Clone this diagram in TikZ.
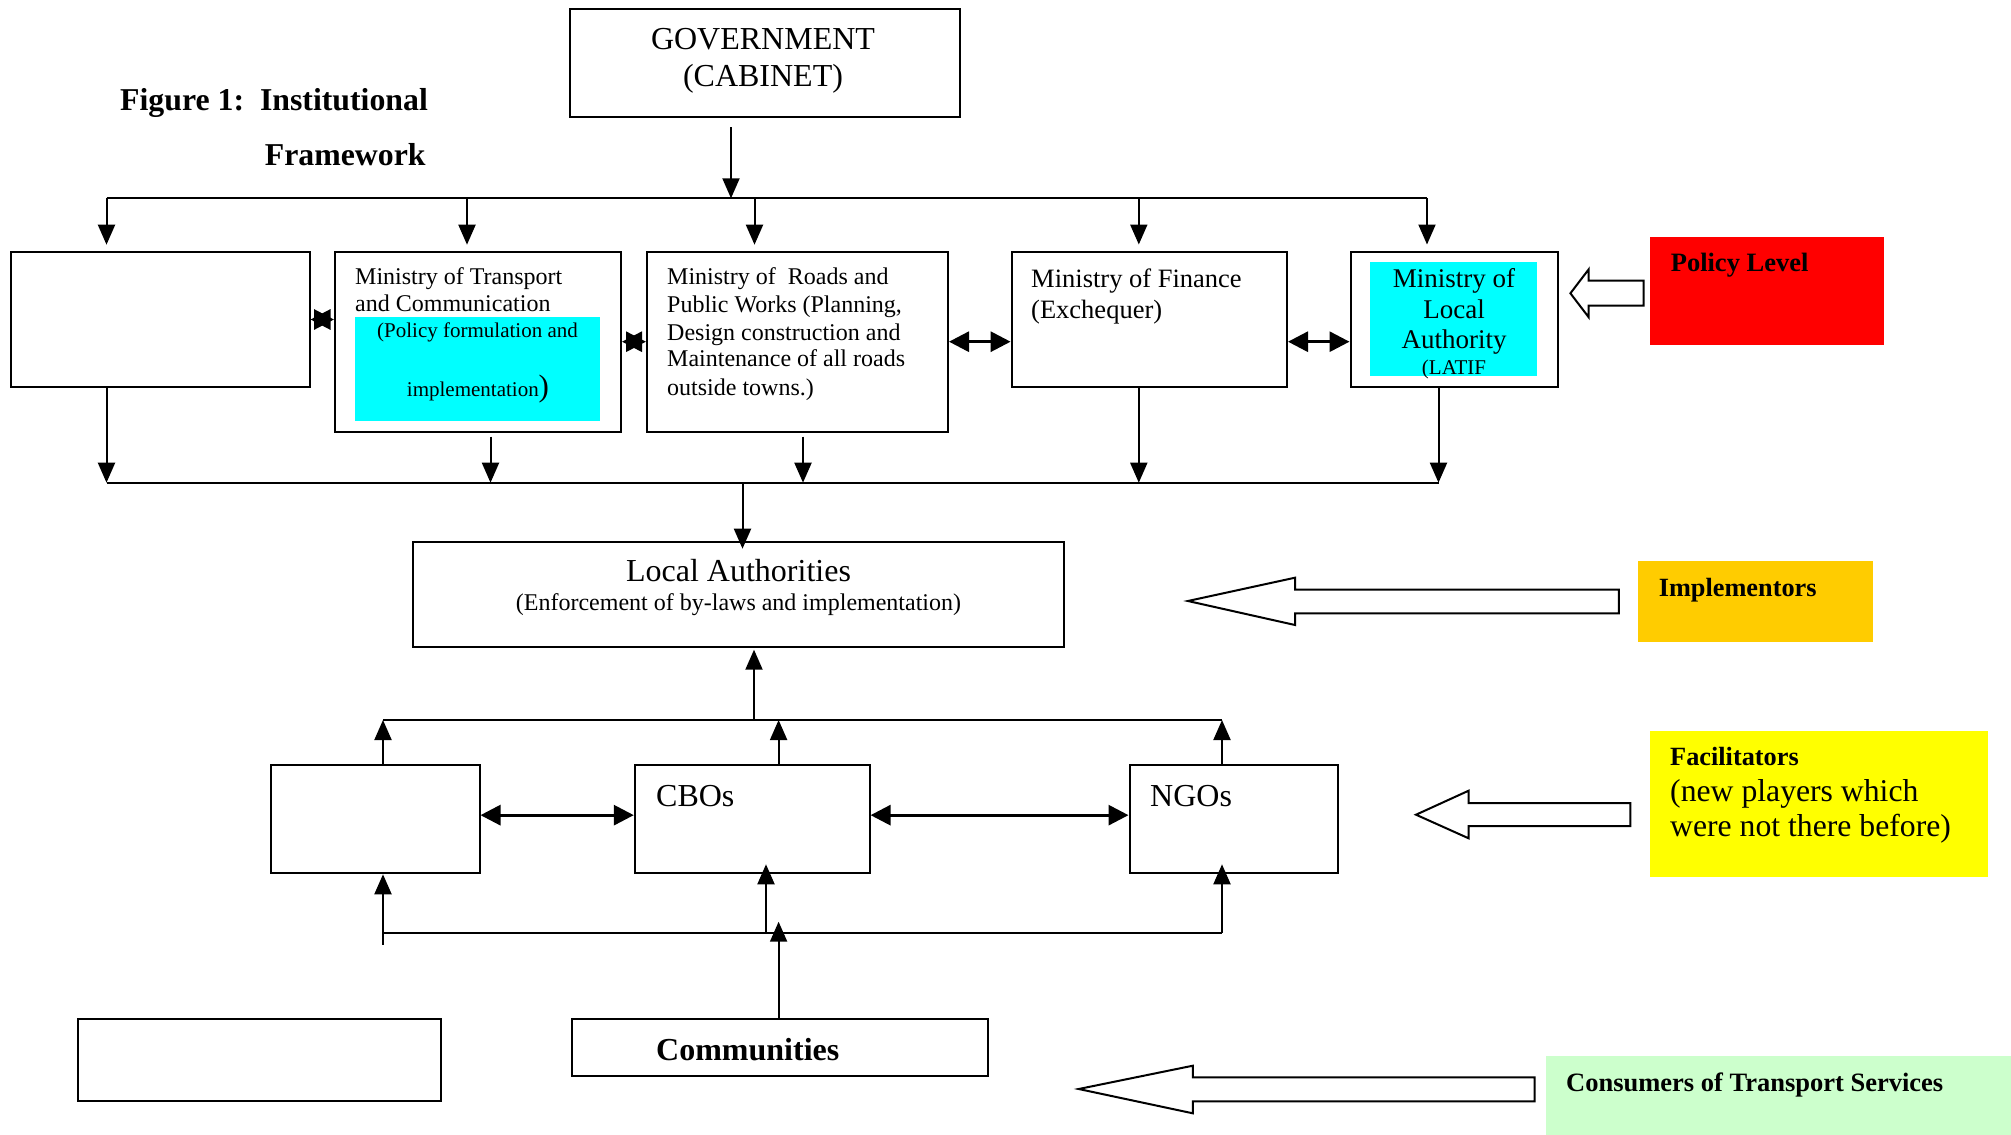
\documentclass[tikz,border=0pt]{standalone}
\usepackage{fontspec}
\setmainfont{Liberation Serif}
\usetikzlibrary{arrows.meta,calc}
\definecolor{cyanbox}{HTML}{00FFFF}
\definecolor{redbox}{HTML}{FF0000}
\definecolor{amberbox}{HTML}{FFCC00}
\definecolor{yellowbox}{HTML}{FFFF00}
\definecolor{greenbox}{HTML}{CCFFCC}
\begin{document}
\begin{tikzpicture}[x=1pt,y=-1pt,
  box/.style={draw,line width=2pt,inner sep=0pt},
  fillbox/.style={inner sep=0pt,draw=none},
  conn/.style={line width=2pt},
  arr/.style={line width=2pt,-{Triangle[length=20pt,width=17pt]}},
  darr/.style={line width=3pt,{Triangle[length=20pt,width=20pt]}-{Triangle[length=20pt,width=20pt]}},
  hollow/.style={draw,line width=2pt,fill=white,line join=miter},
  txt/.style={inner sep=0pt,anchor=base west},
  ctxt/.style={inner sep=0pt,anchor=base}]
\useasboundingbox (0,0) rectangle (2011,1135);

% coloured label boxes
\node[fillbox,fill=redbox,minimum width=234.4pt,minimum height=107.7pt] (policy) at (1766.8,290.85) {};
\node[fillbox,fill=amberbox,minimum width=234.7pt,minimum height=80.7pt] (impl) at (1755.15,601.35) {};
\node[fillbox,fill=yellowbox,minimum width=338.3pt,minimum height=145.7pt] (facil) at (1819.15,803.85) {};
\node[fillbox,fill=greenbox,minimum width=465pt,minimum height=79pt] (cons) at (1778.5,1095.5) {};

% cyan highlights
\node[fillbox,fill=cyanbox,minimum width=245pt,minimum height=103.7pt] (cyan1) at (477.5,368.85) {};
\node[fillbox,fill=cyanbox,minimum width=167pt,minimum height=113.7pt] (cyan2) at (1453.5,318.85) {};

% boxes
\node[box,minimum width=390.5pt,minimum height=108.3pt] (gov) at (764.75,63.15) {};
\node[box,minimum width=298.5pt,minimum height=135.6pt] (left1) at (160.25,319.5) {};
\node[box,minimum width=286pt,minimum height=180pt] (trans) at (478,341.7) {};
\node[box,minimum width=301pt,minimum height=180pt] (roads) at (797.5,341.7) {};
\node[box,minimum width=275.4pt,minimum height=135.5pt] (fin) at (1149.3,319.25) {};
\node[box,minimum width=207pt,minimum height=135.5pt] (mola) at (1454,319.25) {};
\node[box,minimum width=651.4pt,minimum height=105pt] (la) at (738.3,594.2) {};
\node[box,minimum width=209pt,minimum height=108.3pt] (left2) at (375,819.15) {};
\node[box,minimum width=234.8pt,minimum height=108.3pt] (cbo) at (752.2,819.15) {};
\node[box,minimum width=208.9pt,minimum height=108.3pt] (ngo) at (1233.95,819.15) {};
\node[box,minimum width=363.3pt,minimum height=81.7pt] (lbox) at (259.35,1060.15) {};
\node[box,minimum width=415.2pt,minimum height=56.4pt] (comm) at (779.9,1047.5) {};

% hollow arrows
\draw[hollow] (1570.4,293.3) -- (1588.7,269.3) -- (1588.7,280.7) -- (1643.5,280.7) -- (1643.5,305.7) -- (1588.7,305.7) -- (1588.7,317.3) -- cycle;
\draw[hollow] (1187.9,601) -- (1295,577.7) -- (1295,589.7) -- (1618.8,589.7) -- (1618.8,613.3) -- (1295,613.3) -- (1295,625) -- cycle;
\draw[hollow] (1416,814.7) -- (1468.6,790.7) -- (1468.6,803) -- (1630.4,803) -- (1630.4,826) -- (1468.6,826) -- (1468.6,838.3) -- cycle;
\draw[hollow] (1078.7,1089) -- (1192.8,1065.7) -- (1192.8,1077.3) -- (1534.5,1077.3) -- (1534.5,1101.3) -- (1192.8,1101.3) -- (1192.8,1113.3) -- cycle;

% top bus
\coordinate (govout) at (731,127);
\coordinate (tb1) at (106.5,198.3);
\coordinate (tb2) at (467,198.3);
\coordinate (tb3) at (754.5,198.3);
\coordinate (tb4) at (1138.8,198.3);
\coordinate (tb5) at (1427,198.3);
\draw[conn] (tb1) -- (tb5);
\draw[arr] (govout) -- (govout |- tb1);
\draw[arr,shorten >=6pt] (tb1) -- (tb1 |- left1.north);
\draw[arr,shorten >=6pt] (tb2) -- (tb2 |- trans.north);
\draw[arr,shorten >=6pt] (tb3) -- (tb3 |- roads.north);
\draw[arr,shorten >=6pt] (tb4) -- (tb4 |- fin.north);
\draw[arr,shorten >=6pt] (tb5) -- (tb5 |- mola.north);

% ministries double arrows
\draw[darr] (left1.east) -- (trans.west |- left1.east);
\draw[darr] (trans.east) -- (roads.west);
\draw[darr] (roads.east) -- (roads.east -| fin.west);
\draw[darr] (fin.east |- roads.east) -- (mola.west |- roads.east);

% bottom bus of ministries
\coordinate (bb0) at (742.5,482.7);
\coordinate (bb1) at (106.5,482.7);
\coordinate (bb2) at (490.5,482.7);
\coordinate (bb3) at (803,482.7);
\coordinate (bb4) at (1138.8,482.7);
\coordinate (bb5) at (1438.5,482.7);
\draw[conn] (bb1) -- (bb5);
\draw[arr] (bb1 |- left1.south) -- (bb1);
\draw[arr,shorten <=4pt] (bb2 |- trans.south) -- (bb2);
\draw[arr,shorten <=4pt] (bb3 |- roads.south) -- (bb3);
\draw[arr] (bb4 |- fin.south) -- (bb4);
\draw[arr] (bb5 |- mola.south) -- (bb5);
\draw[arr,shorten >=-8pt] (bb0) -- (bb0 |- la.north);

% facilitators upper bus
\coordinate (ub0) at (754,720);
\coordinate (ub1) at (383,720);
\coordinate (ub2) at (778.6,720);
\coordinate (ub3) at (1222,720);
\draw[conn] (ub1) -- (ub3);
\draw[arr,shorten >=2pt] (ub0) -- (ub0 |- la.south);
\draw[arr] (ub1 |- left2.north) -- (ub1);
\draw[arr] (ub2 |- cbo.north) -- (ub2);
\draw[arr] (ub3 |- ngo.north) -- (ub3);

\draw[darr] ($(left2.east)+(0,-4)$) -- ($(cbo.west)+(0,-4)$);
\draw[darr] ($(cbo.east)+(0,-4)$) -- ($(ngo.west)+(0,-4)$);

% facilitators lower bus
\coordinate (lb1) at (383,933.3);
\coordinate (lb1end) at (383,945);
\coordinate (lb2) at (766,933.3);
\coordinate (lb3) at (1222,933.3);
\coordinate (cc) at (778.6,921.7);
\draw[conn] (lb1) -- (lb3);
\draw[conn] (lb1) -- (lb1end);
\draw[arr] (lb1) -- (lb1 |- left2.south);
\draw[arr,shorten >=-10pt] (lb2) -- (lb2 |- cbo.south);
\draw[arr,shorten >=-10pt] (lb3) -- (lb3 |- ngo.south);
\draw[arr] (cc |- comm.north) -- (cc);

% texts
\node[ctxt,font=\fontsize{32}{38}\selectfont] (govt1) at (763,49.3) {GOVERNMENT};
\node[ctxt,font=\fontsize{32}{38}\selectfont] (govt2) at (763,86) {(CABINET)};
\node[txt,font=\fontsize{31.8}{37}\selectfont\bfseries] (tt1) at (120,110.7) {Figure 1:\ \ Institutional};
\node[txt,font=\fontsize{31.8}{37}\selectfont\bfseries] (tt2) at (264.7,165.7) {Framework};

\node[txt,font=\fontsize{24}{28}\selectfont] (mt1) at (355,284) {Ministry of Transport};
\node[txt,font=\fontsize{24}{28}\selectfont] (mt2) at (355,311.7) {and Communication};
\node[ctxt,font=\fontsize{21}{25}\selectfont] (mt3) at (477.5,337.3) {(Policy formulation and};
\node[ctxt,font=\fontsize{21}{25}\selectfont] (mt4) at (478,396.7) {implementation{\fontsize{31}{37}\selectfont)}};

\node[txt,font=\fontsize{24}{28}\selectfont] (rd1) at (667,284) {Ministry of\ \ Roads and};
\node[txt,font=\fontsize{24}{28}\selectfont] (rd2) at (667,312.3) {Public Works (Planning,};
\node[txt,font=\fontsize{24}{28}\selectfont] (rd3) at (667,340) {Design construction and};
\node[txt,font=\fontsize{24}{28}\selectfont] (rd4) at (667,366.7) {Maintenance of all roads};
\node[txt,font=\fontsize{24}{28}\selectfont] (rd5) at (667,395) {outside towns.)};

\node[txt,font=\fontsize{26.5}{31}\selectfont] (fn1) at (1031,287.3) {Ministry of Finance};
\node[txt,font=\fontsize{26.5}{31}\selectfont] (fn2) at (1031,318.3) {(Exchequer)};

\node[ctxt,font=\fontsize{27}{31}\selectfont] (ml1) at (1454,287.3) {Ministry of};
\node[ctxt,font=\fontsize{27}{31}\selectfont] (ml2) at (1454,318.3) {Local};
\node[ctxt,font=\fontsize{27}{31}\selectfont] (ml3) at (1454,348.3) {Authority};
\node[ctxt,font=\fontsize{21}{25}\selectfont] (ml4) at (1454,374) {(LATIF};

\node[txt,font=\fontsize{26.5}{31}\selectfont\bfseries] (pl) at (1670.6,271.7) {Policy Level};

\node[ctxt,font=\fontsize{32}{38}\selectfont] (la1) at (738.5,581.7) {Local Authorities};
\node[ctxt,font=\fontsize{24}{28}\selectfont] (la2) at (738.5,610.7) {(Enforcement of by-laws and implementation)};

\node[txt,font=\fontsize{26.3}{31}\selectfont\bfseries] (im) at (1658.6,596.7) {Implementors};

\node[txt,font=\fontsize{32}{38}\selectfont] (cb) at (656,806) {CBOs};
\node[txt,font=\fontsize{32}{38}\selectfont] (ng) at (1150,806) {NGOs};

\node[txt,font=\fontsize{26.3}{31}\selectfont\bfseries] (fa1) at (1670,765) {Facilitators};
\node[txt,font=\fontsize{31.7}{37}\selectfont] (fa2) at (1670,801.7) {(new players which};
\node[txt,font=\fontsize{31.7}{37}\selectfont] (fa3) at (1670,836.7) {were not there before)};

\node[txt,font=\fontsize{32}{38}\selectfont\bfseries] (cm) at (656,1060) {Communities};
\node[txt,font=\fontsize{26.5}{31}\selectfont\bfseries] (cs) at (1566,1091.7) {Consumers of Transport Services};
\end{tikzpicture}
\end{document}
